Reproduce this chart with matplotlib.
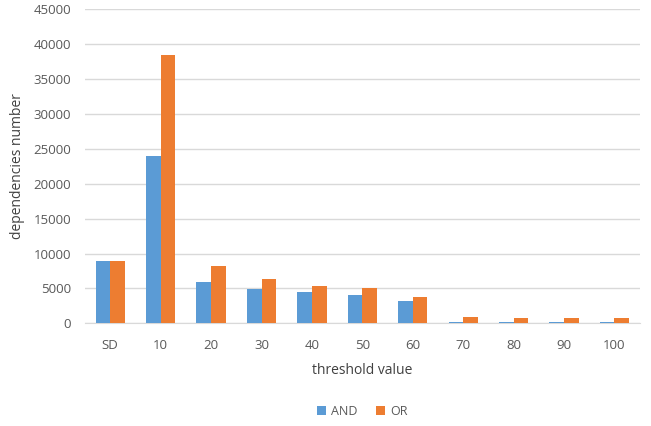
import numpy as np
import matplotlib
matplotlib.use('Agg')
import matplotlib.pyplot as plt

categories = ['SD', '10', '20', '30', '40', '50', '60', '70', '80', '90', '100']
and_values = [8950, 24000, 5900, 4850, 4420, 4130, 3260, 250, 250, 120, 120]
or_values = [8950, 38400, 8200, 6300, 5290, 5000, 3840, 900, 780, 780, 780]

plt.rcParams['font.family'] = ['Open Sans', 'DejaVu Sans']

fig = plt.figure(figsize=(6.51, 4.26), dpi=100)
ax = fig.add_axes([0.1306, 0.241, 0.852, 0.737])

x = np.arange(len(categories))
w = 0.29
ax.bar(x - w / 2, and_values, w, color='#5B9BD5', label='AND', zorder=3)
ax.bar(x + w / 2, or_values, w, color='#ED7D31', label='OR', zorder=3)

ax.set_ylim(0, 45000)
ax.set_yticks(np.arange(0, 45001, 5000))
ax.set_xlim(-0.5, len(categories) - 0.5)
ax.set_xticks(x)
ax.set_xticklabels(categories)
ax.yaxis.grid(True, color='#D9D9D9', linewidth=1, zorder=0)
for s in ['top', 'right', 'left']:
    ax.spines[s].set_visible(False)
ax.spines['bottom'].set_color('#D9D9D9')
ax.tick_params(axis='both', length=0, labelsize=9.5, colors='#595959', pad=10)
ax.tick_params(axis='x', pad=11)

ax.set_xlabel('threshold value', fontsize=10, color='#404040', labelpad=8)
ax.set_ylabel('dependencies number', fontsize=10, color='#404040', labelpad=6)

ax.legend(loc='upper center', bbox_to_anchor=(0.5, -0.225), ncol=2, frameon=False,
          fontsize=9, labelcolor='#595959', handlelength=0.7, handleheight=0.7,
          columnspacing=1.5, handletextpad=0.4)

fig.savefig('out.png', dpi=100)
